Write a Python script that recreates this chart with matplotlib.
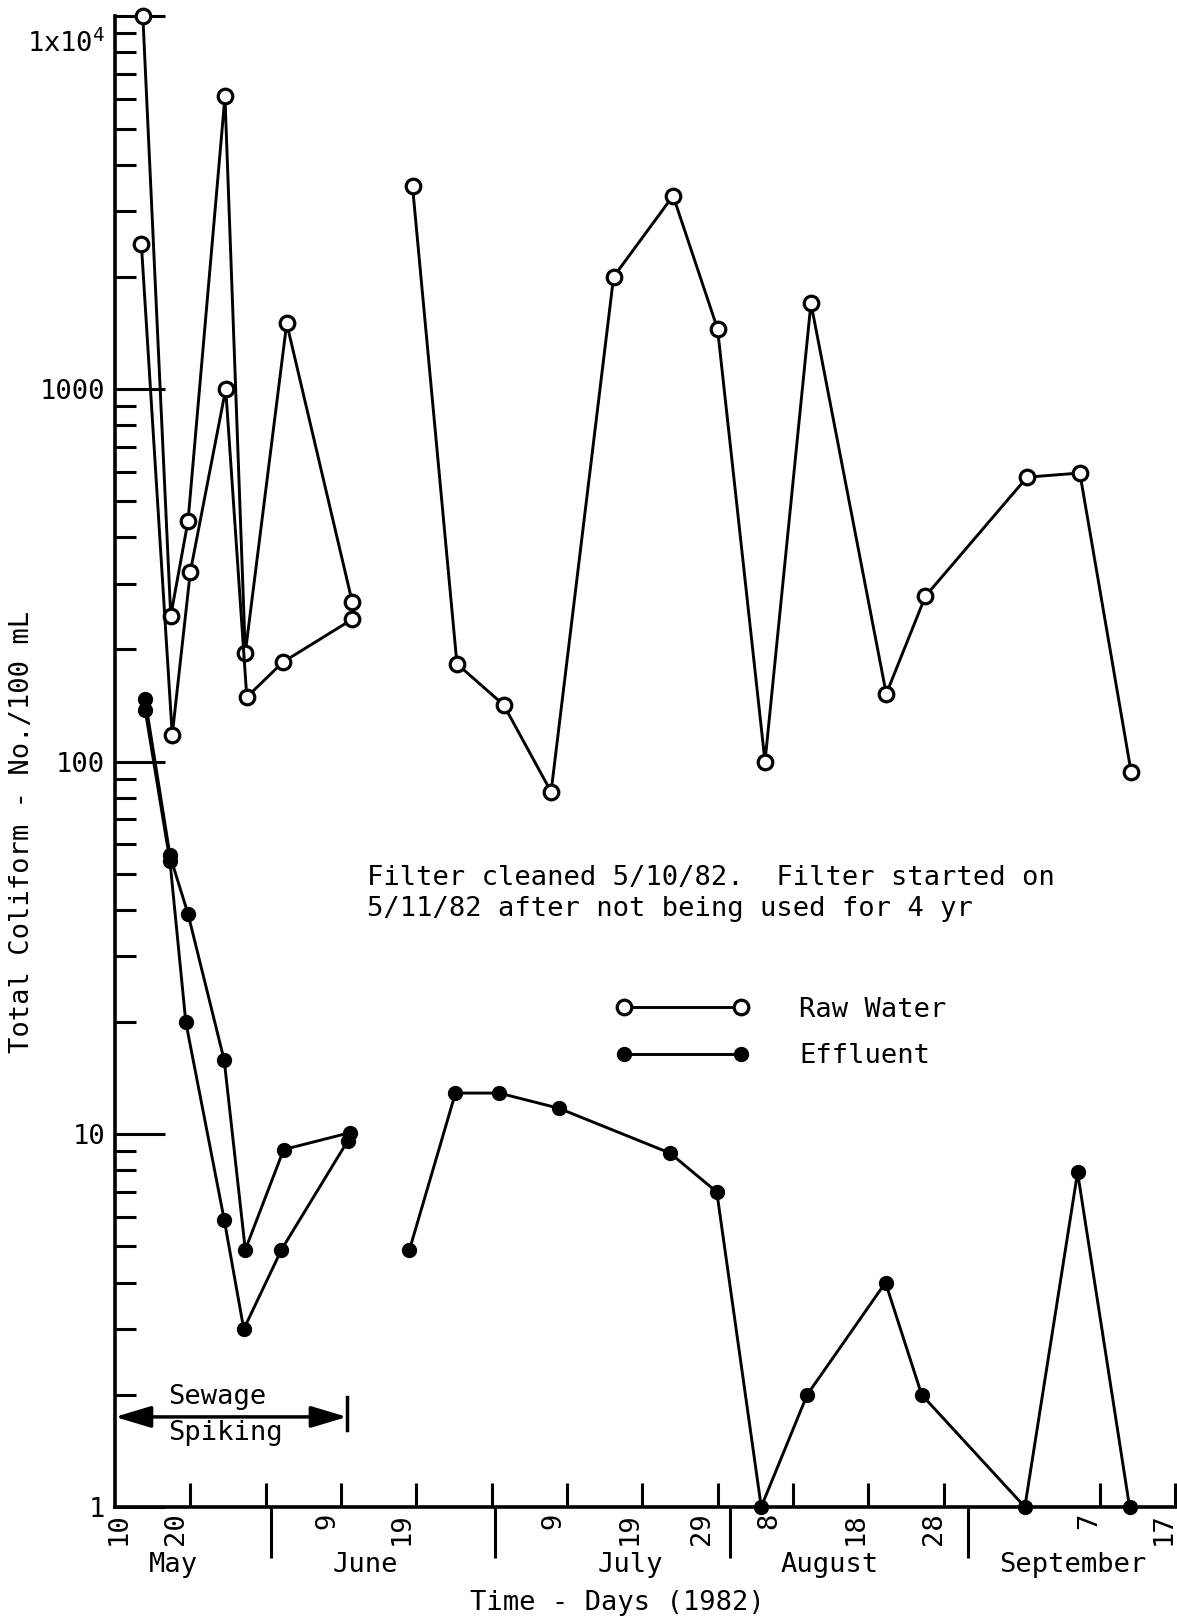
import matplotlib.pyplot as plt
from matplotlib.ticker import FixedLocator, NullFormatter, NullLocator, LogLocator
from matplotlib.transforms import ScaledTranslation

plt.rcParams['font.family'] = 'DejaVu Sans Mono'
plt.rcParams['font.size'] = 19.5
plt.rcParams['mathtext.default'] = 'regular'

# sampling days, counted from 10 May 1982 (x axis origin)
raw_a_day = [3.7, 7.4, 9.7, 14.6, 17.3, 22.8, 31.5]
raw_a = [10000, 246, 443, 6100, 196, 1500, 268]
raw_b_day = [3.5, 7.6, 10.0, 14.7, 17.5, 22.3, 31.5]
raw_b = [2450, 118, 323, 1000, 149, 185, 241]
raw_c_day = [39.5, 45.4, 51.6, 57.9, 66.2, 74.1, 80.0, 86.3, 92.4, 102.4,
             107.6, 121.1, 128.1, 134.9]
raw_c = [3500, 183, 142, 83, 2000, 3300, 1450, 100, 1700, 152, 278, 580, 595, 94]

eff_a_day = [4.0, 7.3, 9.7, 14.5, 17.3, 22.4, 31.2]
eff_a = [147, 56, 39, 15.8, 4.9, 9.1, 10.1]
eff_b_day = [4.0, 7.3, 9.4, 14.5, 17.1, 22.1, 30.9]
eff_b = [138, 54, 20, 5.9, 3.0, 4.9, 9.6]
eff_c_day = [39.1, 45.2, 51.0, 58.9, 73.7, 79.9, 85.8, 91.9, 102.3, 107.1,
             120.8, 127.8, 134.7]
eff_c = [4.9, 12.9, 12.9, 11.75, 8.9, 7.0, 1, 2.0, 4.0, 2.0, 1, 7.9, 1]

# axis furniture
tick_days = [10, 20, 30, 40, 50, 60, 70, 80, 90, 100, 110, 130.8, 140.8]
date_pos = [0.5, 8.1, 28.2, 38.1, 58.2, 68.4, 78.0, 86.9, 98.3, 108.8, 129.3, 139.2]
date_labels = ['10', '20', '9', '19', '9', '19', '29', '8', '18', '28', '7', '17']
month_bounds = [20.7, 50.5, 81.7, 113.3]
month_pos = [7.8, 33.3, 68.4, 94.9, 127.2]
months = ['May', 'June', 'July', 'August', 'September']
y_ticks = [1, 10, 100, 1000, 10000]
y_labels = ['1', '10', '100', '1000', '1x10$^{4}$']
spiking = (0.0, 30.8)

fig = plt.figure(figsize=(11.77, 16.2), dpi=100)
ax = fig.add_axes([0.0977, 0.0698, 0.9023, 0.9201])

line_kw = dict(color='k', lw=2.1, clip_on=False)
open_kw = dict(marker='o', ms=10.5, mfc='white', mec='k', mew=2.3)
dot_kw = dict(marker='o', ms=10, mfc='k', mec='k')

h_raw = None
for d, v in [(raw_a_day, raw_a), (raw_b_day, raw_b), (raw_c_day, raw_c)]:
    h_raw, = ax.plot(d, v, zorder=3, **line_kw, **open_kw)
h_eff = None
for d, v in [(eff_a_day, eff_a), (eff_b_day, eff_b), (eff_c_day, eff_c)]:
    h_eff, = ax.plot(d, v, zorder=3, **line_kw, **dot_kw)

ax.set_yscale('log')
ax.set_ylim(1, 1e4)
ax.set_xlim(0, 141.0)

for s in ['top', 'right']:
    ax.spines[s].set_visible(False)
for s in ['left', 'bottom']:
    ax.spines[s].set_linewidth(2.6)

# y axis: long inner decade ticks, short inner minor ticks
ax.set_yticks(y_ticks, y_labels)
ax.yaxis.set_minor_locator(LogLocator(base=10, subs=range(2, 10)))
ax.yaxis.set_minor_formatter(NullFormatter())
ax.tick_params(axis='y', which='major', direction='in', length=36, width=2.2, pad=7)
ax.tick_params(axis='y', which='minor', direction='in', length=15, width=2.2)

# x axis: labels as major ticks (no marks), marks as minor ticks
ax.xaxis.set_major_locator(FixedLocator(date_pos))
ax.set_xticklabels(date_labels)
ax.xaxis.set_minor_locator(FixedLocator(tick_days))
ax.tick_params(axis='x', which='major', length=0, pad=4, labelrotation=90)
ax.tick_params(axis='x', which='minor', direction='in', length=17, width=2.2)

ax.get_yticklabels()[-1].set_transform(
    ax.get_yticklabels()[-1].get_transform()
    + ScaledTranslation(0, -0.24, fig.dpi_scale_trans))

# month separators hang below the axis
sec = ax.secondary_xaxis('bottom')
sec.xaxis.set_major_locator(FixedLocator(month_bounds))
sec.xaxis.set_major_formatter(NullFormatter())
sec.xaxis.set_minor_locator(NullLocator())
sec.tick_params(direction='out', length=37, width=2.2)
sec.spines['bottom'].set_visible(False)

for p, m in zip(month_pos, months):
    ax.text(p, -0.0389, m, transform=ax.get_xaxis_transform(),
            ha='center', va='center')

ax.set_xlabel('Time - Days (1982)')
ax.xaxis.set_label_coords(0.4727, -0.0557)
ax.set_ylabel('Total Coliform - No./100 mL')
ax.yaxis.set_label_coords(-0.0753, 0.4529)

ax.text(33.4, 48.8, 'Filter cleaned 5/10/82.  Filter started on',
        ha='left', va='center')
ax.text(33.4, 40.3, '5/11/82 after not being used for 4 yr',
        ha='left', va='center')

ax.legend([h_raw, h_eff], ['Raw Water', 'Effluent'], numpoints=2,
          frameon=False, loc='center left', bbox_to_anchor=(0.472, 0.318),
          handlelength=4.9, handletextpad=1.85, labelspacing=0.75,
          borderpad=0, borderaxespad=0)

# sewage spiking period
ax.annotate('', xy=(spiking[0], 1.744), xytext=(spiking[1], 1.744),
            arrowprops=dict(arrowstyle='<|-|>,head_length=1.1,head_width=0.33',
                            mutation_scale=20, lw=2.5, color='k',
                            shrinkA=0, shrinkB=0))
ax.plot([spiking[1], spiking[1]], [1.61, 1.97], color='k', lw=2.5)
ax.text(7.0, 1.97, 'Sewage', va='center')
ax.text(7.0, 1.58, 'Spiking', va='center')

fig.savefig('out.png', dpi=100)
